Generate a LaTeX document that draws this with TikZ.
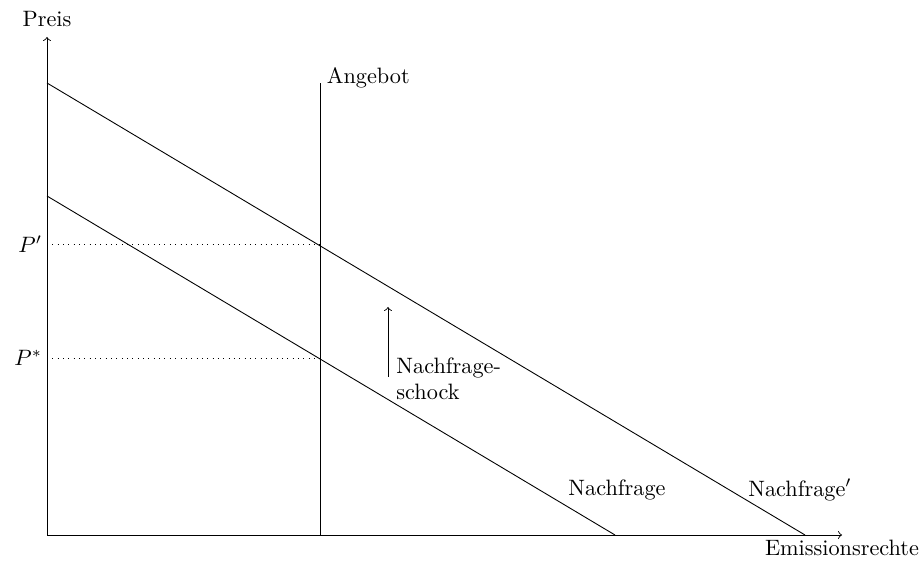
\documentclass[tikz,border=0pt]{standalone}
\begin{document}
\begin{tikzpicture}[x=0.4494pt,y=-0.4494pt,
  curve/.style={line width=0.4pt},
  lbl/.style={inner sep=2pt, font=\normalsize}]
\useasboundingbox (0,0) rectangle (922,561);
% coordinates
\coordinate (O) at (47,535);
\coordinate (ytip) at (47,37);
\coordinate (xtip) at (842,535);
\coordinate (Stop) at (320.5,83);
\coordinate (Sbot) at (320.5,535);
\coordinate (Dp1) at (47,83);
\coordinate (Dp2) at (805,535);
\coordinate (D1) at (47,196);
\coordinate (D2) at (615,535);
\coordinate (Pp) at (47,244);
\coordinate (Ppe) at (320,244);
\coordinate (Ps) at (47,358);
\coordinate (Pse) at (320,358);
\coordinate (A1) at (388,377);
\coordinate (A2) at (388,307);
% axes
\draw[->] (O) -- (ytip);
\node[lbl] (preis) at (47,19) {Preis};
\draw[->] (O) -- (xtip) node[below, lbl] (emis) {Emissionsrechte};
% curves
\draw[curve] (Sbot) -- (Stop);
\node[anchor=west, lbl] (ang) at (322,78) {Angebot};
\draw[curve] (Dp1) -- (Dp2);
\draw[curve] (D1) -- (D2);
\draw[dotted] (Pp) -- (Ppe);
\draw[dotted] (Ps) -- (Pse);
\node[left, lbl] (lp) at (Pp) {$P'$};
\node[left, lbl] (ls) at (Ps) {$P^{*}$};
\draw[->] (A1) -- (A2);
\node[anchor=north west, align=left, lbl, inner sep=0pt] (shock) at (396,357) {Nachfrage-\\schock};
\node[lbl] (nf) at (617,490) {Nachfrage};
\node[lbl] (nfp) at (800,490) {Nachfrage$'$};
\end{tikzpicture}
\end{document}
